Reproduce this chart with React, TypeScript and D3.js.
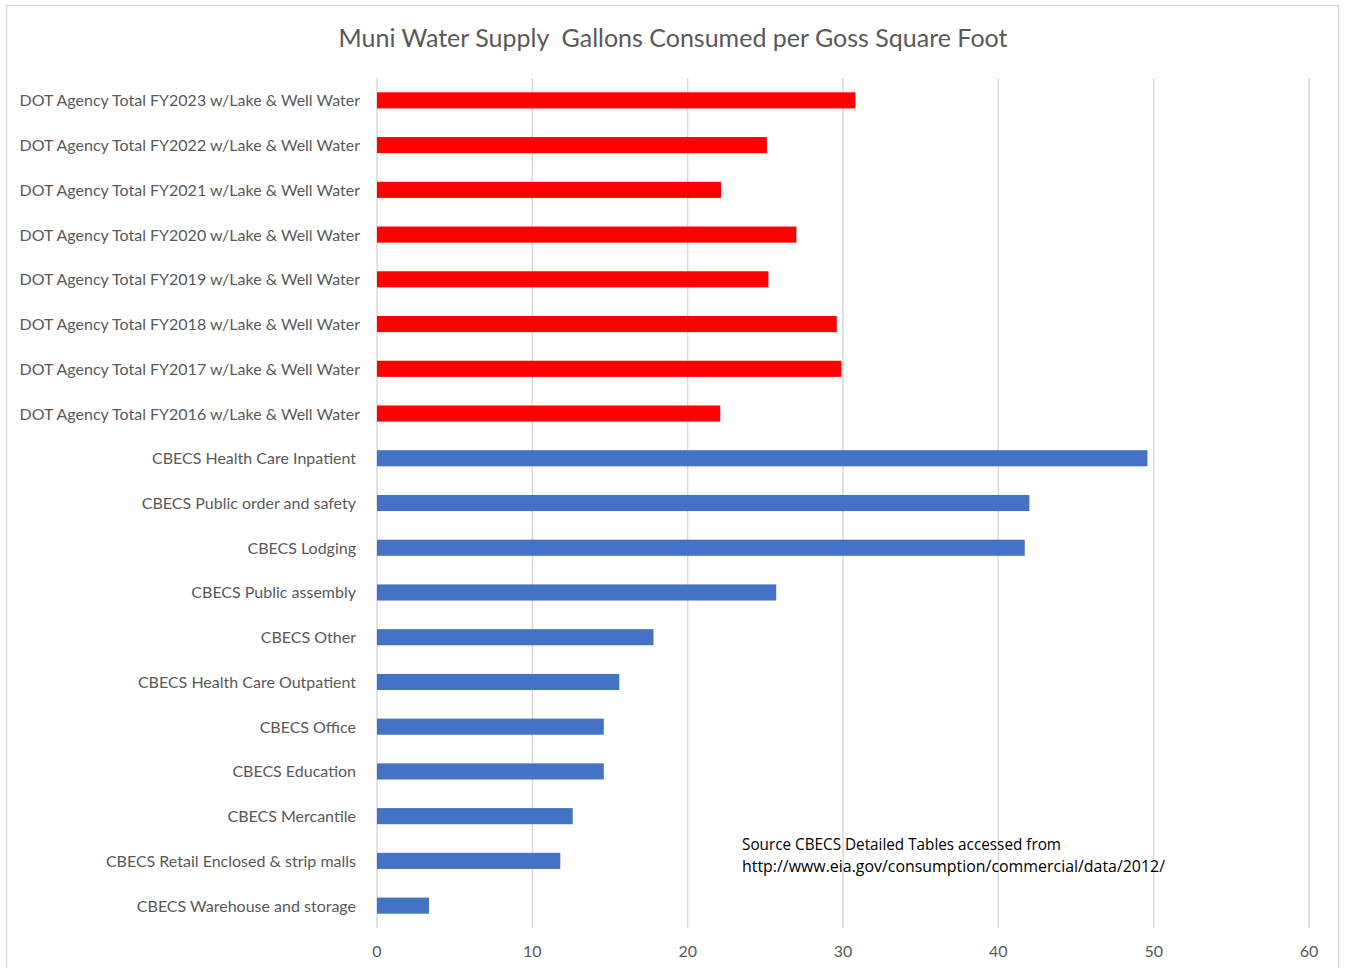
import React from "react";
import * as d3 from "d3";

const categories = [
  "DOT Agency Total FY2023 w/Lake & Well Water",
  "DOT Agency Total FY2022 w/Lake & Well Water",
  "DOT Agency Total FY2021 w/Lake & Well Water",
  "DOT Agency Total FY2020 w/Lake & Well Water",
  "DOT Agency Total FY2019 w/Lake & Well Water",
  "DOT Agency Total FY2018 w/Lake & Well Water",
  "DOT Agency Total FY2017 w/Lake & Well Water",
  "DOT Agency Total FY2016 w/Lake & Well Water",
  "CBECS Health Care Inpatient",
  "CBECS Public order and safety",
  "CBECS Lodging",
  "CBECS Public assembly",
  "CBECS Other",
  "CBECS Health Care Outpatient",
  "CBECS Office",
  "CBECS Education",
  "CBECS Mercantile",
  "CBECS Retail Enclosed & strip malls",
  "CBECS Warehouse and storage",
];
const values = [30.8, 25.1, 22.15, 27.0, 25.2, 29.6, 29.9, 22.1, 49.6, 42.0, 41.7, 25.7, 17.8, 15.6, 14.6, 14.6, 12.6, 11.8, 3.35];
const groups = ["DOT", "DOT", "DOT", "DOT", "DOT", "DOT", "DOT", "DOT", "CBECS", "CBECS", "CBECS", "CBECS", "CBECS", "CBECS", "CBECS", "CBECS", "CBECS", "CBECS", "CBECS"];
const xTicks = [0, 10, 20, 30, 40, 50, 60];
const title = "Muni Water Supply  Gallons Consumed per Goss Square Foot";
const sourceLines = ["Source CBECS Detailed Tables accessed from", "http://www.eia.gov/consumption/commercial/data/2012/"];

const colorMap: Record<string, string> = { DOT: "#FF0000", CBECS: "#4472C4" };

export default function App() {
  const W = 1345, H = 968;
  const x = d3.scaleLinear().domain([0, 60]).range([377, 1309]);
  const y = d3.scaleBand<string>().domain(categories).range([78, 928]).paddingInner(0.64).paddingOuter(0.32);
  const font = "Lato, 'Open Sans', sans-serif";
  return (
    <svg width={W} height={H} style={{ position: "absolute", left: 0, top: 0, background: "#fff" }}>
      <rect x={6.5} y={5.5} width={1332} height={980} fill="#fff" stroke="#d9d9d9" strokeWidth={1.5} />
      <text x={673} y={47} textAnchor="middle" fontFamily={font} fontSize={25} fill="#595959" style={{ whiteSpace: "pre" }}>{title}</text>
      {xTicks.map((t) => (
        <g key={t}>
          <line x1={x(t)} x2={x(t)} y1={78} y2={928} stroke="#d9d9d9" strokeWidth={1.5} />
          <text x={x(t)} y={957} textAnchor="middle" fontFamily={font} fontSize={16} fill="#595959">{t}</text>
        </g>
      ))}
      {categories.map((c, i) => (
        <g key={c}>
          <rect x={x(0)} y={y(c)} width={x(values[i]) - x(0)} height={y.bandwidth()} fill={colorMap[groups[i]]} />
          <text x={groups[i] === "DOT" ? 360 : 356} y={(y(c) as number) + y.bandwidth() / 2 + 6} textAnchor="end" fontFamily={font} fontSize={16} fill="#595959">{c}</text>
        </g>
      ))}
      {sourceLines.map((s, i) => (
        <text key={i} x={742} y={850 + i * 22} fontFamily="'Open Sans', sans-serif" fontSize={15.5} fill="#000" textLength={i === 0 ? 319 : 423} lengthAdjust="spacingAndGlyphs">{s}</text>
      ))}
    </svg>
  );
}
